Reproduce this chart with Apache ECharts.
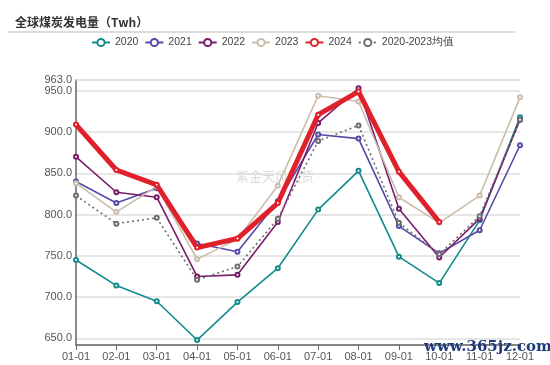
<!DOCTYPE html>
<html>
<head>
<meta charset="utf-8">
<script src="https://cdn.jsdelivr.net/npm/echarts@6/dist/echarts.min.js"></script>
<style>html,body{margin:0;padding:0;background:#fff}#c{width:550px;height:365px}</style>
</head>
<body>
<div id="c"></div>
<script>
var categories = ['01-01','02-01','03-01','04-01','05-01','06-01','07-01','08-01','09-01','10-01','11-01','12-01'];
var s2020 = [745, 714, 695, 648, 694, 735, 806, 853, 749, 717, 793, 918];
var s2021 = [840, 814, 832, 765, 755, 816, 897, 892, 786, 753, 781, 884];
var s2022 = [870, 827, 821, 725, 727, 791, 911, 953, 807, 748, 795, 915];
var s2023 = [838, 803, 834, 746, 770, 835, 944, 937, 821, 790, 823, 942];
var s2024 = [909, 854, 836, 760, 771, 814, 921, 949, 852, 791];
var sAvg  = [823, 789, 796, 721, 737, 795, 889, 908, 790, 752, 798, 915];
var seriesNames = ['2020','2021','2022','2023','2024','2020-2023均值'];
var yMin = 642, yMax = 963;

var colors = ['#138a8c', '#5848a8', '#7a1c6c', '#cbbdab', '#e0202a', '#6e6e6e'];
var chart = echarts.init(document.getElementById('c'), null, {renderer: 'canvas'});

function mk(name, data, color, opts) {
  var o = {
    name: name, type: 'line', data: data,
    symbol: 'emptyCircle', symbolSize: 4, showSymbol: true,
    itemStyle: {color: color},
    lineStyle: {color: color, width: 1.6},
    z: 2
  };
  if (opts) for (var k in opts) o[k] = opts[k];
  return o;
}

var s0 = mk(seriesNames[0], s2020, colors[0]);
s0.markLine = {
  silent: true, symbol: 'none', animation: false, z: 1,
  lineStyle: {color: '#dedede', width: 1.5, type: 'solid'},
  label: {show: true, position: 'start', distance: 4, color: '#555', fontSize: 11,
          formatter: function (p) { return Number(p.value).toFixed(1); }},
  data: [{yAxis: yMax}]
};

var option = {
  animation: false,
  title: {
    text: '全球煤炭发电量（Twh）',
    left: 10, top: 11,
    textStyle: {fontSize: 12, fontWeight: 'bold', color: '#333', fontFamily: 'Noto Sans CJK SC'}
  },
  graphic: [
    {type: 'line', shape: {x1: 8, y1: 32, x2: 515, y2: 32}, style: {stroke: '#d0d0d0', lineWidth: 1.5}},
    {type: 'text', left: 236, top: 170, style: {text: '紫金天风期货', fill: 'rgba(150,150,150,0.35)', font: '13px "Noto Sans CJK SC"'}, z: 0},
    {type: 'text', left: 424, top: 340, style: {text: 'www.365jz.com', fill: '#1f3b7a', font: 'bold 15px "DejaVu Serif"'}, z: 100}
  ],
  color: colors,
  legend: {
    top: 32, left: 86,
    itemWidth: 18, itemHeight: 9, itemGap: 6,
    textStyle: {fontSize: 10.5, color: '#444', fontFamily: 'Liberation Sans'},
    data: seriesNames
  },
  grid: {left: 76, right: 30, top: 80, bottom: 20},
  xAxis: {
    type: 'category', data: categories, boundaryGap: false,
    axisLine: {lineStyle: {color: '#666', width: 1.5}},
    axisTick: {lineStyle: {color: '#666'}},
    axisLabel: {color: '#555', fontSize: 11, margin: 6}
  },
  yAxis: {
    type: 'value', min: yMin, max: yMax,
    axisLine: {show: true, lineStyle: {color: '#666', width: 1.5}},
    axisTick: {show: false},
    axisLabel: {
      color: '#555', fontSize: 11, margin: 4, showMinLabel: false, showMaxLabel: false,
      formatter: function (v) { return v % 50 === 0 ? Number(v).toFixed(1) : ''; }
    },
    splitLine: {lineStyle: {color: '#dedede', width: 1.5}}
  },
  series: [
    s0,
    mk(seriesNames[1], s2021, colors[1]),
    mk(seriesNames[2], s2022, colors[2]),
    mk(seriesNames[3], s2023, colors[3]),
    mk(seriesNames[4], s2024, colors[4], {lineStyle: {color: colors[4], width: 5}, z: 5}),
    mk(seriesNames[5], sAvg, colors[5], {lineStyle: {color: colors[5], width: 1.6, type: [2, 3]}})
  ]
};
chart.setOption(option);
</script>
</body>
</html>
